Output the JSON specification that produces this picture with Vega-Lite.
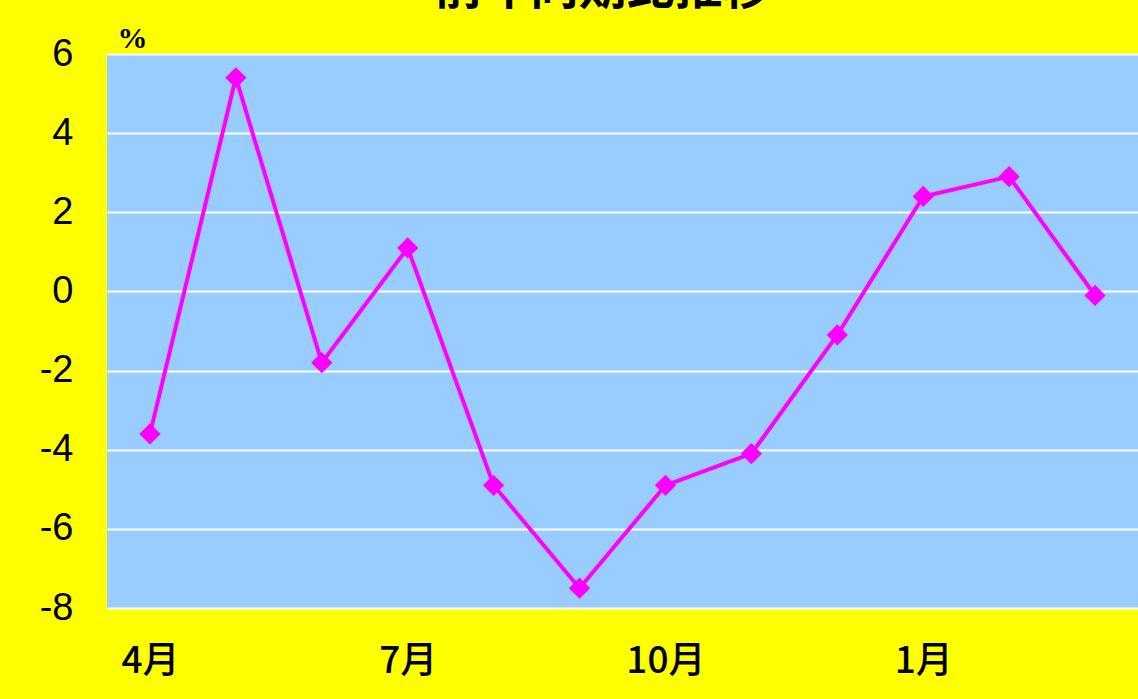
{
  "$schema": "https://vega.github.io/schema/vega-lite/v6.json",
  "width": 1031,
  "height": 554,
  "autosize": "none",
  "padding": {"left": 107, "top": 54, "right": 0, "bottom": 91},
  "background": "#FFFF00",
  "title": {
    "text": "前年同期比推移",
    "font": "Noto Sans CJK JP",
    "fontSize": 48,
    "fontWeight": "bold",
    "color": "#000000",
    "anchor": "middle",
    "frame": "group",
    "dx": -20,
    "offset": 9
  },
  "data": {
    "values": [
      {"month": "4月", "value": -3.6},
      {"month": "5月", "value": 5.4},
      {"month": "6月", "value": -1.8},
      {"month": "7月", "value": 1.1},
      {"month": "8月", "value": -4.9},
      {"month": "9月", "value": -7.5},
      {"month": "10月", "value": -4.9},
      {"month": "11月", "value": -4.1},
      {"month": "12月", "value": -1.1},
      {"month": "1月", "value": 2.4},
      {"month": "2月", "value": 2.9},
      {"month": "3月", "value": -0.1}
    ]
  },
  "mark": {
    "type": "line",
    "color": "#FF00FF",
    "strokeWidth": 4,
    "point": {"shape": "diamond", "size": 450, "filled": true, "color": "#FF00FF", "opacity": 1}
  },
  "encoding": {
    "x": {
      "field": "month",
      "type": "ordinal",
      "sort": null,
      "axis": {
        "title": null,
        "values": ["4月", "7月", "10月", "1月"],
        "labelAngle": 0,
        "labelFont": "Noto Sans CJK JP",
        "labelFontWeight": 500,
        "labelFontSize": 37,
        "labelColor": "#000000",
        "labelPadding": 35,
        "labelBaseline": "top",
        "domain": false,
        "ticks": false,
        "grid": false
      }
    },
    "y": {
      "field": "value",
      "type": "quantitative",
      "scale": {"domain": [-8, 6], "nice": false, "zero": false},
      "axis": {
        "title": "%",
        "titleAngle": 0,
        "titleX": 25,
        "titleY": -7,
        "titleAlign": "center",
        "titleBaseline": "alphabetic",
        "titleFont": "Liberation Serif",
        "titleFontWeight": "bold",
        "titleFontSize": 30,
        "titleColor": "#000000",
        "values": [-8, -6, -4, -2, 0, 2, 4, 6],
        "labelExpr": "toString(datum.value)",
        "labelFont": "Liberation Sans",
        "labelFontSize": 38,
        "labelColor": "#000000",
        "labelPadding": 34,
        "domain": false,
        "ticks": false,
        "grid": true,
        "gridColor": "#FFFFFF",
        "gridWidth": 2,
        "gridOpacity": 1
      }
    }
  },
  "config": {
    "view": {"fill": "#99CCFF", "stroke": null}
  }
}
